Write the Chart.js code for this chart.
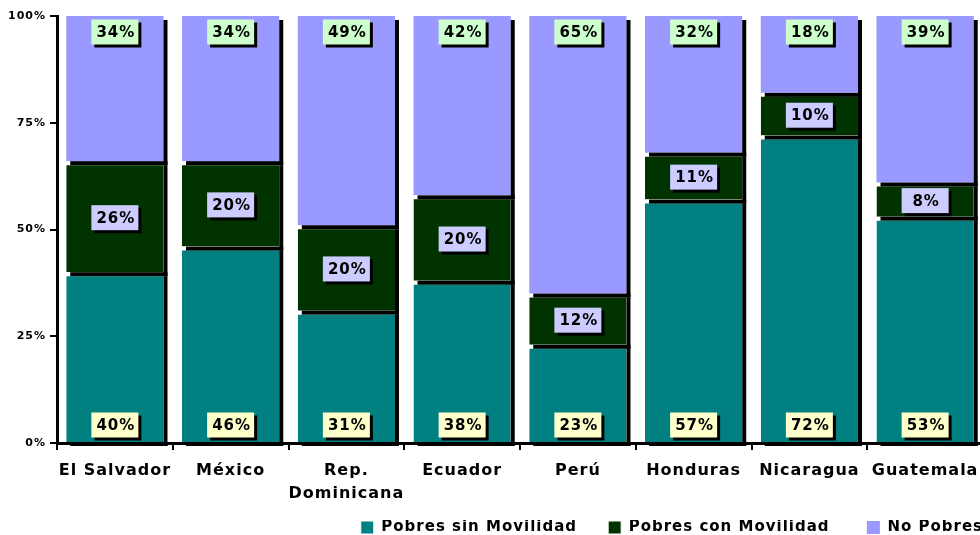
<!DOCTYPE html>
<html>
<head>
<meta charset="utf-8">
<script src="https://cdn.jsdelivr.net/npm/chart.js@4.4.0/dist/chart.umd.min.js"></script>
<style>
    html, body { margin: 0; padding: 0; background: #fff; overflow: hidden; }
    #wrap { width: 992px; height: 535px; position: relative; }
</style>
</head>
<body>
<div id="wrap"><canvas id="myChart" width="992" height="535"></canvas></div>
<script>
// datos (porcentajes)
const paises = ['El Salvador', 'México', ['Rep.', 'Dominicana'], 'Ecuador', 'Perú', 'Honduras', 'Nicaragua', 'Guatemala'];
const sinMovilidad = [40, 46, 31, 38, 23, 57, 72, 53];
const conMovilidad = [26, 20, 20, 20, 12, 11, 10, 8];
const noPobres = [34, 34, 49, 42, 65, 32, 18, 39];
const ticksY = ['0%', '25%', '50%', '75%', '100%'];

const FUENTE = '"DejaVu Sans", Verdana, sans-serif';

// sombra negra de cada segmento + etiquetas con caja
const sombrasYEtiquetas = {
    id: 'sombrasYEtiquetas',
    beforeLayout(chart) { chart.ctx.letterSpacing = '1px'; },
    afterLayout(chart) {
        // bajar un poco la leyenda
        if (chart.legend) {
            chart.legend.top += 10;
            chart.legend.bottom += 10;
        }
    },
    beforeDraw(chart) { chart.ctx.letterSpacing = '1px'; },
    afterDatasetsDraw(chart) {
        const ctx = chart.ctx;
        ctx.save();
        ctx.fillStyle = '#000';
        chart.data.datasets.forEach(function (ds, i) {
            chart.getDatasetMeta(i).data.forEach(function (bar) {
                const w = bar.width;
                const left = bar.x - w / 2, right = bar.x + w / 2;
                const top = Math.min(bar.y, bar.base), bottom = Math.max(bar.y, bar.base);
                ctx.fillRect(right, top + 4, 4, bottom - top);
                ctx.fillRect(left + 4, bottom, w, 4);
            });
        });

        const yScale = chart.scales.y;
        ctx.font = 'bold 15px ' + FUENTE;
        ctx.textAlign = 'center';
        ctx.textBaseline = 'middle';
        chart.data.datasets.forEach(function (ds, i) {
            chart.getDatasetMeta(i).data.forEach(function (bar, j) {
                let cy;
                if (i === 0) cy = yScale.getPixelForValue(0) - 18;
                else if (i === 2) cy = yScale.getPixelForValue(100) + 16;
                else cy = (bar.y + bar.base) / 2 + 1;
                const bw = 47, bh = 25;
                const bx = bar.x - bw / 2, by = cy - bh / 2;
                ctx.fillStyle = '#000';
                ctx.fillRect(bx + 3, by + 3, bw, bh);
                ctx.fillStyle = ds.cajaColor;
                ctx.fillRect(bx, by, bw, bh);
                ctx.fillStyle = '#000';
                ctx.fillText(ds.data[j] + '%', bar.x + 1, cy + 1);
            });
        });
        ctx.restore();
    }
};

const bordeArriba = { top: 4, right: 0, bottom: 0, left: 0 };

const ctx = document.getElementById('myChart').getContext('2d');
const myChart = new Chart(ctx, {
    type: 'bar',
    data: {
        labels: paises,
        datasets: [
            { label: 'Pobres sin Movilidad     ', data: sinMovilidad, backgroundColor: '#008080', borderColor: '#fff', borderWidth: bordeArriba, borderSkipped: false, cajaColor: '#FFFFCC' },
            { label: 'Pobres con Movilidad      ', data: conMovilidad, backgroundColor: '#003300', borderColor: '#fff', borderWidth: bordeArriba, borderSkipped: false, cajaColor: '#CCCCFF' },
            { label: 'No Pobres', data: noPobres, backgroundColor: '#9999FF', borderWidth: 0, cajaColor: '#CCFFCC' }
        ]
    },
    options: {
        responsive: false,
        animation: false,
        devicePixelRatio: 1,
        layout: { padding: { top: 16, right: 9, left: 0, bottom: 0 } },
        datasets: { bar: { categoryPercentage: 1, barPercentage: 0.84 } },
        scales: {
            x: {
                stacked: true,
                grid: { drawOnChartArea: false, color: '#000', lineWidth: 2, tickLength: 7 },
                border: { color: '#000', width: 3 },
                ticks: { color: '#000', font: { family: FUENTE, size: 16, weight: 'bold', lineHeight: 1.45 }, padding: 9, maxRotation: 0, autoSkip: false },
                afterFit(scale) { scale.height = 67; }
            },
            y: {
                stacked: true,
                min: 0,
                max: 100,
                grid: { drawOnChartArea: false, color: '#000', lineWidth: 2, tickLength: 7 },
                border: { color: '#000', width: 3 },
                ticks: {
                    stepSize: 25,
                    color: '#000',
                    padding: 4,
                    font: { family: FUENTE, size: 11, weight: 'bold' },
                    callback: function (v) { return ticksY[v / 25]; }
                },
                afterFit(scale) { scale.width = 57; }
            }
        },
        plugins: {
            tooltip: { enabled: false },
            legend: {
                position: 'bottom',
                align: 'end',
                labels: {
                    color: '#000',
                    font: { family: FUENTE, size: 15, weight: 'bold' },
                    boxWidth: 13,
                    boxHeight: 13,
                    padding: 0
                }
            }
        }
    },
    plugins: [sombrasYEtiquetas]
});
</script>
</body>
</html>
